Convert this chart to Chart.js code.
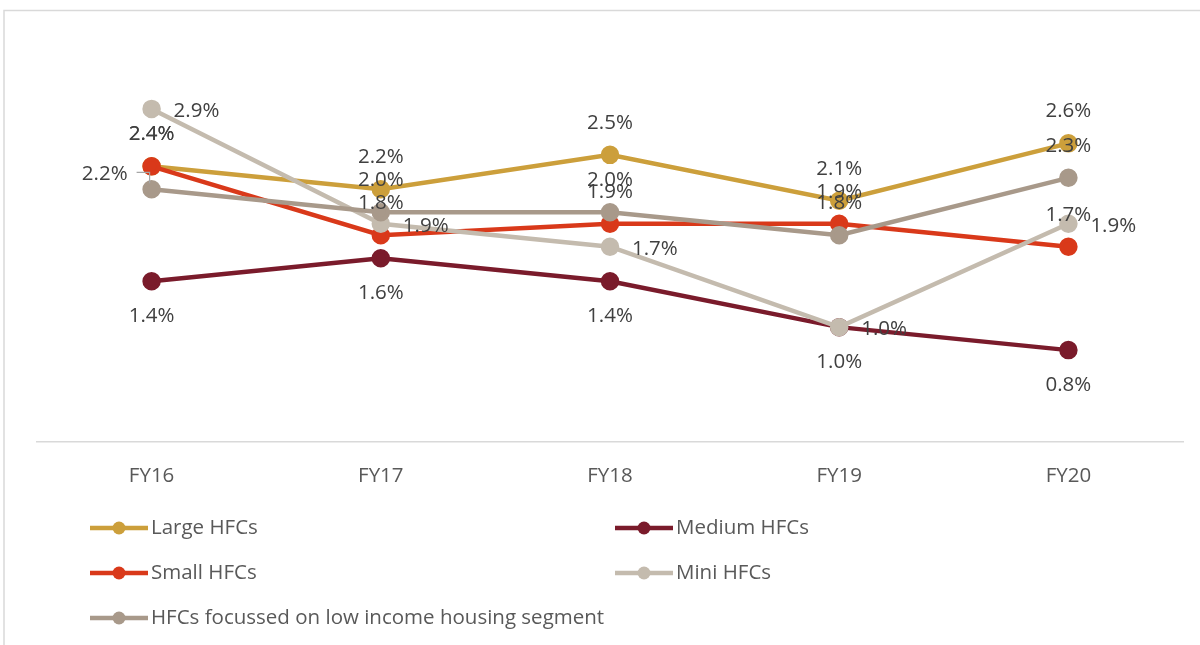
<!DOCTYPE html>
<html>
<head>
<meta charset="utf-8">
<script src="https://cdn.jsdelivr.net/npm/chart.js@4.4.1/dist/chart.umd.min.js"></script>
<style>
    body { margin: 0; background: #fff; }
    #chart { display: block; }
</style>
</head>
<body>
<canvas id="chart" width="1200" height="645"></canvas>
<script>
const years = ['FY16', 'FY17', 'FY18', 'FY19', 'FY20'];
const largeHfcs = [2.4, 2.2, 2.5, 2.1, 2.6];
const mediumHfcs = [1.4, 1.6, 1.4, 1.0, 0.8];
const smallHfcs = [2.4, 1.8, 1.9, 1.9, 1.7];
const miniHfcs = [2.9, 1.9, 1.7, 1.0, 1.9];
const lowIncomeHfcs = [2.2, 2.0, 2.0, 1.8, 2.3];

const FONT = '"Open Sans", "Noto Sans", sans-serif';
const FONT_SIZE = 20.5;

// one entry per series: name, values, colour, where its value labels sit
const series = [
    {name: 'Large HFCs', data: largeHfcs, color: '#CC9F3B', pos: 'above'},
    {name: 'Medium HFCs', data: mediumHfcs, color: '#7A1B2B', pos: 'below'},
    {name: 'Small HFCs', data: smallHfcs, color: '#D9391A', pos: 'above'},
    {name: 'Mini HFCs', data: miniHfcs, color: '#C4BBAE', pos: 'right'},
    {name: 'HFCs focussed on low income housing segment', data: lowIncomeHfcs, color: '#A8998A',
        pos: ['leftLead', 'above', 'above', 'above', 'above']},
];

// light frame round the whole chart
const framePlugin = {
    id: 'frame',
    beforeDraw(chart) {
        const c = chart.ctx;
        c.save();
        c.strokeStyle = '#d9d9d9';
        c.lineWidth = 1.5;
        c.beginPath();
        c.moveTo(4, chart.height);
        c.lineTo(4, 10.5);
        c.lineTo(chart.width, 10.5);
        c.stroke();
        c.restore();
    }
};

const valueLabels = {
    id: 'valueLabels',
    afterDatasetsDraw(chart) {
        const c = chart.ctx;
        c.save();
        c.font = FONT_SIZE + 'px ' + FONT;
        c.fillStyle = '#404040';
        chart.data.datasets.forEach((ds, di) => {
            const meta = chart.getDatasetMeta(di);
            meta.data.forEach((pt, i) => {
                const text = ds.data[i].toFixed(1) + '%';
                const pos = Array.isArray(ds.labelPos) ? ds.labelPos[i] : ds.labelPos;
                let x = pt.x, y = pt.y;
                c.textBaseline = 'middle';
                if (pos === 'above') {
                    c.textAlign = 'center';
                    y -= 32;
                } else if (pos === 'below') {
                    c.textAlign = 'center';
                    y += 35;
                } else if (pos === 'right') {
                    c.textAlign = 'left';
                    x += 22;
                    y += 2;
                } else if (pos === 'leftLead') {
                    c.textAlign = 'right';
                    x -= 24;
                    y -= 15;
                    c.save();
                    c.strokeStyle = '#a6a6a6';
                    c.lineWidth = 1.2;
                    c.beginPath();
                    c.moveTo(pt.x - 15, pt.y - 17);
                    c.lineTo(pt.x - 2, pt.y - 17);
                    c.lineTo(pt.x - 2, pt.y - 6);
                    c.stroke();
                    c.restore();
                }
                c.fillText(text, x, y);
            });
        });
        c.restore();
    }
};

// two-column legend under the axis
const legendPlugin = {
    id: 'twoColLegend',
    afterDraw(chart) {
        const c = chart.ctx;
        const cols = [90, 615];
        const rows = [528, 573, 618];
        c.save();
        c.font = FONT_SIZE + 'px ' + FONT;
        c.textBaseline = 'middle';
        c.textAlign = 'left';
        chart.data.datasets.forEach((ds, i) => {
            const x = cols[i % 2];
            const y = rows[Math.floor(i / 2)];
            c.strokeStyle = ds.borderColor;
            c.lineWidth = 4.5;
            c.beginPath();
            c.moveTo(x, y);
            c.lineTo(x + 58, y);
            c.stroke();
            c.fillStyle = ds.borderColor;
            c.beginPath();
            c.arc(x + 29, y, 6.5, 0, Math.PI * 2);
            c.fill();
            c.fillStyle = '#595959';
            c.fillText(ds.label, x + 61, y);
        });
        c.restore();
    }
};

const ctx = document.getElementById('chart');
const mainChart = new Chart(ctx, {
    type: 'line',
    data: {
        labels: years,
        datasets: series.map((s, i) => ({
            label: s.name,
            data: s.data,
            borderColor: s.color,
            backgroundColor: s.color,
            pointBackgroundColor: s.color,
            pointBorderColor: s.color,
            borderWidth: 4.5,
            pointRadius: 7,
            pointHoverRadius: 7,
            lineTension: 0,
            labelPos: s.pos,
            order: series.length - i,
        })),
    },
    options: {
        responsive: false,
        animation: false,
        layout: {padding: {left: 37, right: 17, top: 40, bottom: 0}},
        plugins: {
            legend: {display: false},
            tooltip: {enabled: false},
        },
        scales: {
            x: {
                offset: true,
                grid: {display: false},
                border: {display: true, color: '#d9d9d9', width: 1.5},
                ticks: {
                    color: '#595959',
                    padding: 14,
                    font: {family: FONT, size: FONT_SIZE},
                },
                afterFit(scale) {
                    scale.height = 203;
                },
            },
            y: {
                display: false,
                min: 0,
                max: 3.5,
            },
        },
    },
    plugins: [framePlugin, valueLabels, legendPlugin],
});
</script>
</body>
</html>
